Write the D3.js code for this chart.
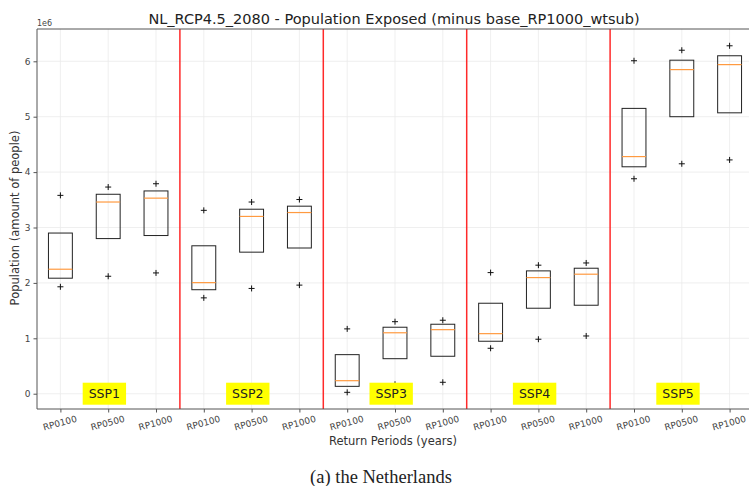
<!DOCTYPE html>
<html>
<head>
<meta charset="utf-8">
<script src="https://cdn.jsdelivr.net/npm/d3@7"></script>
<style>
  body { margin: 0; background: #fff; }
  svg { display: block; }
</style>
</head>
<body>
<svg id="chart" width="749" height="486"></svg>
<script>
const ssps = ["SSP1", "SSP2", "SSP3", "SSP4", "SSP5"];
const rps = ["RP0100", "RP0500", "RP1000"];
// values in millions of people, one per (SSP, RP) in order
const q1 =        [2.085, 2.80, 2.855, 1.877, 2.555, 2.63, 0.133, 0.632, 0.676, 0.947, 1.543, 1.597, 4.096, 5.00, 5.07];
const medians =   [2.247, 3.46, 3.53, 2.005, 3.20, 3.27, 0.235, 1.10, 1.156, 1.084, 2.096, 2.157, 4.28, 5.85, 5.94];
const q3 =        [2.90, 3.60, 3.66, 2.67, 3.33, 3.385, 0.705, 1.20, 1.254, 1.633, 2.217, 2.265, 5.15, 6.02, 6.10];
const flierHigh = [3.58, 3.73, 3.79, 3.31, 3.46, 3.505, 1.17, 1.30, 1.326, 2.186, 2.32, 2.36, 6.01, 6.20, 6.28];
const flierLow =  [1.93, 2.12, 2.18, 1.73, 1.90, 1.96, 0.025, 0.17, 0.206, 0.82, 0.983, 1.042, 3.88, 4.15, 4.22];
const yTicks = [0, 1, 2, 3, 4, 5, 6];

(function () {
const svg = d3.select("#chart");
const pL = 37, pT = 29, pB = 409, pR = 749;
const categories = [];
ssps.forEach(s => rps.forEach(r => categories.push({ssp: s, rp: r})));

const x = d3.scaleLinear().domain([-0.5, 14.5]).range([36.5, 753.5]);
const y = d3.scaleLinear().domain([-0.276e6, 6.583e6]).range([pB, pT]);

const fontSans = "DejaVu Sans, sans-serif";

// grid
const g = svg.append("g");
g.selectAll("line.vg").data(categories).enter().append("line")
  .attr("x1", (d, i) => x(i)).attr("x2", (d, i) => x(i))
  .attr("y1", pT).attr("y2", pB)
  .attr("stroke", "#ebebeb").attr("stroke-width", 0.8);
g.selectAll("line.hg").data(yTicks).enter().append("line")
  .attr("x1", pL).attr("x2", pR)
  .attr("y1", d => y(d * 1e6)).attr("y2", d => y(d * 1e6))
  .attr("stroke", "#ebebeb").attr("stroke-width", 0.8);

// group separators
const seps = [2.5, 5.5, 8.5, 11.5];
g.selectAll("line.sep").data(seps).enter().append("line")
  .attr("x1", d => x(d)).attr("x2", d => x(d))
  .attr("y1", pT).attr("y2", pB)
  .attr("stroke", "#ff2a2a").attr("stroke-width", 1.5);

// boxes
const bw = 0.5;
const idx = d3.range(categories.length);
g.selectAll("rect.box").data(idx).enter().append("rect")
  .attr("x", i => x(i - bw / 2)).attr("width", x(bw) - x(0))
  .attr("y", i => y(q3[i] * 1e6)).attr("height", i => y(q1[i] * 1e6) - y(q3[i] * 1e6))
  .attr("fill", "none").attr("stroke", "#222").attr("stroke-width", 1);
g.selectAll("line.med").data(idx).enter().append("line")
  .attr("x1", i => x(i - bw / 2)).attr("x2", i => x(i + bw / 2))
  .attr("y1", i => y(medians[i] * 1e6)).attr("y2", i => y(medians[i] * 1e6))
  .attr("stroke", "#ff9a40").attr("stroke-width", 1.2);

// fliers
const fl = [];
idx.forEach(i => { fl.push([i, flierHigh[i]]); fl.push([i, flierLow[i]]); });
g.selectAll("path.fl").data(fl).enter().append("path")
  .attr("d", "M-3,0H3M0,-3V3")
  .attr("transform", d => `translate(${x(d[0])},${y(d[1] * 1e6)})`)
  .attr("stroke", "#111").attr("stroke-width", 1).attr("fill", "none");

// SSP labels
const lab = svg.append("g");
ssps.forEach((s, k) => {
  const cx = x(k * 3 + 1 - 0.08), cy = y(0);
  const t = lab.append("text").attr("x", cx).attr("y", cy + 4.5)
    .attr("text-anchor", "middle").attr("font-family", fontSans)
    .attr("font-size", 12.5).attr("fill", "#222").text(s);
  const bb = t.node().getBBox();
  lab.insert("rect", "text").attr("x", bb.x - 6).attr("y", cy - 11)
    .attr("width", bb.width + 12).attr("height", 22).attr("fill", "#ffff00");
});

// axes
const yAxis = d3.axisLeft(y).tickValues(yTicks.map(v => v * 1e6)).tickFormat(d => d / 1e6).tickSize(3.5).tickPadding(3);
const ya = svg.append("g").attr("transform", `translate(${pL},0)`).call(yAxis);
ya.select(".domain").remove();
ya.selectAll("line").attr("stroke", "#555");
ya.selectAll("text").attr("font-family", fontSans).attr("font-size", 9).attr("fill", "#444");

const xAxis = d3.axisBottom(x).tickValues(idx).tickFormat(i => categories[i].rp).tickSize(3.5).tickPadding(3);
const xa = svg.append("g").attr("transform", `translate(0,${pB})`).call(xAxis);
xa.select(".domain").remove();
xa.selectAll("line").attr("stroke", "#555");
xa.selectAll("text").attr("font-family", fontSans).attr("font-size", 9).attr("fill", "#444")
  .attr("text-anchor", "middle")
  .attr("x", 0).attr("y", 0)
  .attr("transform", "translate(-1,14) rotate(-15)")
  .attr("dy", "0.35em");

// spines
svg.append("line").attr("x1", pL).attr("x2", pL).attr("y1", pT).attr("y2", pB).attr("stroke", "#555").attr("stroke-width", 1);
svg.append("line").attr("x1", pL).attr("x2", pR).attr("y1", pB).attr("y2", pB).attr("stroke", "#555").attr("stroke-width", 1);
svg.append("line").attr("x1", pL).attr("x2", pR).attr("y1", pT).attr("y2", pT).attr("stroke", "#555").attr("stroke-width", 1);

// offset text
svg.append("text").attr("x", pL).attr("y", 26).attr("font-family", fontSans).attr("font-size", 8).attr("fill", "#444").text("1e6");

// title
svg.append("text").attr("x", 394).attr("y", 24).attr("text-anchor", "middle")
  .attr("font-family", fontSans).attr("font-size", 14.5).attr("fill", "#222")
  .text("NL_RCP4.5_2080 - Population Exposed (minus base_RP1000_wtsub)");

// axis labels
svg.append("text").attr("x", 393).attr("y", 445).attr("text-anchor", "middle")
  .attr("font-family", fontSans).attr("font-size", 11.5).attr("fill", "#333")
  .text("Return Periods (years)");
svg.append("text").attr("transform", "translate(19,218) rotate(-90)").attr("text-anchor", "middle")
  .attr("font-family", fontSans).attr("font-size", 11.5).attr("fill", "#333")
  .text("Population (amount of people)");

// caption
svg.append("text").attr("x", 381).attr("y", 483).attr("text-anchor", "middle")
  .attr("font-family", "Liberation Serif, serif").attr("font-size", 18.5).attr("fill", "#222")
  .text("(a) the Netherlands");
})();
</script>
</body>
</html>
